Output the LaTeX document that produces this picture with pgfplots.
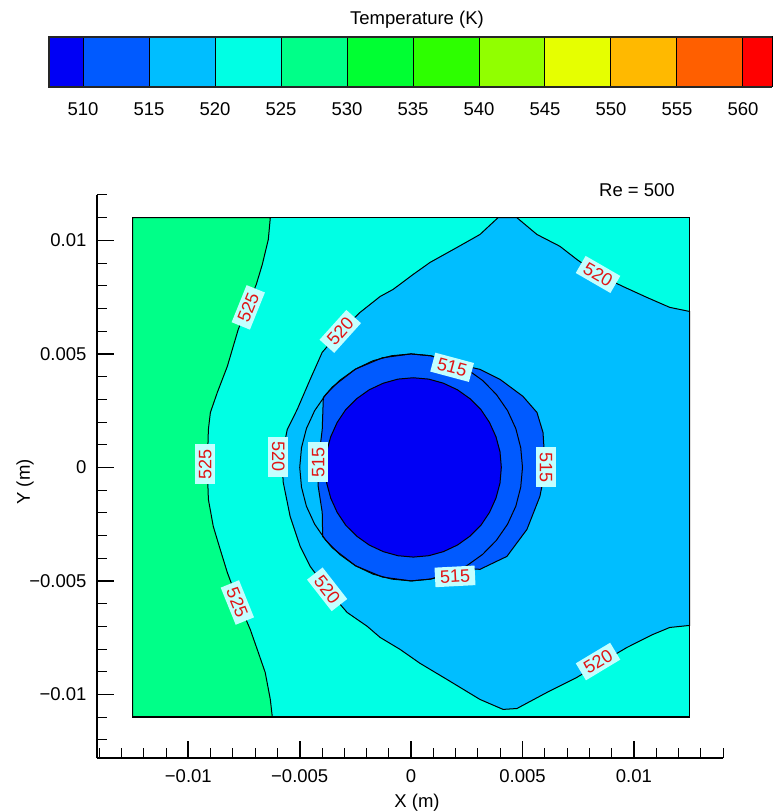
\documentclass[border=0pt]{standalone}
\usepackage{fontspec}
\setmainfont{Liberation Sans}
\usepackage{pgfplots}
\pgfplotsset{compat=1.18}
\definecolor{c1}{RGB}{0,0,245}
\definecolor{c2}{RGB}{0,90,255}
\definecolor{c3}{RGB}{0,190,255}
\definecolor{c4}{RGB}{0,255,228}
\definecolor{c5}{RGB}{0,255,136}
\definecolor{c6}{RGB}{0,255,50}
\definecolor{c7}{RGB}{45,255,0}
\definecolor{c8}{RGB}{145,255,0}
\definecolor{c9}{RGB}{230,255,0}
\definecolor{c10}{RGB}{255,185,0}
\definecolor{c11}{RGB}{255,95,0}
\definecolor{c12}{RGB}{255,0,0}
\definecolor{labbg}{RGB}{196,255,255}
\definecolor{labred}{RGB}{225,20,20}
\tikzset{clab/.style={fill=labbg, text=labred, inner xsep=5pt, inner ysep=3.5pt, font=\fontsize{18}{20}\selectfont}}
\begin{document}
\begin{tikzpicture}[font=\fontsize{18.5}{21}\selectfont]
% ---------- colour legend ----------
\begin{axis}[at={(49pt,725pt)}, anchor=south west, scale only axis,
  width=723pt, height=50pt, xmin=507.42, xmax=562.2, ymin=0, ymax=1,
  axis line style={draw=none}, ytick=\empty,
  xtick={510,515,520,525,530,535,540,545,550,555,560},
  xticklabels={510,515,520,525,530,535,540,545,550,555,560},
  major tick length=0pt, xtick style={draw=none},
  xticklabel style={font=\fontsize{18.5}{21}\selectfont, yshift=-12pt},
  clip=false]
\addplot[fill=c1, draw=black, line width=1pt] coordinates {(507.42,0)(510,0)(510,1)(507.42,1)} --cycle;
\addplot[fill=c2, draw=black, line width=1pt] coordinates {(510,0)(515,0)(515,1)(510,1)} --cycle;
\addplot[fill=c3, draw=black, line width=1pt] coordinates {(515,0)(520,0)(520,1)(515,1)} --cycle;
\addplot[fill=c4, draw=black, line width=1pt] coordinates {(520,0)(525,0)(525,1)(520,1)} --cycle;
\addplot[fill=c5, draw=black, line width=1pt] coordinates {(525,0)(530,0)(530,1)(525,1)} --cycle;
\addplot[fill=c6, draw=black, line width=1pt] coordinates {(530,0)(535,0)(535,1)(530,1)} --cycle;
\addplot[fill=c7, draw=black, line width=1pt] coordinates {(535,0)(540,0)(540,1)(535,1)} --cycle;
\addplot[fill=c8, draw=black, line width=1pt] coordinates {(540,0)(545,0)(545,1)(540,1)} --cycle;
\addplot[fill=c9, draw=black, line width=1pt] coordinates {(545,0)(550,0)(550,1)(545,1)} --cycle;
\addplot[fill=c10, draw=black, line width=1pt] coordinates {(550,0)(555,0)(555,1)(550,1)} --cycle;
\addplot[fill=c11, draw=black, line width=1pt] coordinates {(555,0)(560,0)(560,1)(555,1)} --cycle;
\addplot[fill=c12, draw=black, line width=1pt] coordinates {(560,0)(562.2,0)(562.2,1)(560,1)} --cycle;
\addplot[draw=black!85, line width=2pt] coordinates {(562.2,0)(507.42,0)(507.42,1)(562.2,1)};
\end{axis}
% ---------- contour plot ----------
\begin{axis}[at={(97pt,54pt)}, anchor=south west, scale only axis,
  width=626pt, height=563pt,
  xmin=-0.0141, xmax=0.014, ymin=-0.0128, ymax=0.012,
  axis lines=left, axis line style={-, line width=2pt, black},
  tick align=inside, major tick length=17pt, minor tick length=10pt,
  every major tick/.append style={line width=1.8pt, black},
  every minor tick/.append style={line width=1pt, black},
  scaled ticks=false,
  xtick={-0.01,-0.005,0,0.005,0.01},
  xticklabels={−0.01,−0.005,0,0.005,0.01},
  ytick={-0.01,-0.005,0,0.005,0.01},
  yticklabels={−0.01,−0.005,0,0.005,0.01},
  minor xtick={-0.014,-0.013,-0.012,-0.011,-0.009,-0.008,-0.007,-0.006,-0.004,-0.003,-0.002,-0.001,0.001,0.002,0.003,0.004,0.006,0.007,0.008,0.009,0.011,0.012,0.013,0.014},
  minor ytick={-0.012,-0.011,-0.009,-0.008,-0.007,-0.006,-0.004,-0.003,-0.002,-0.001,0.001,0.002,0.003,0.004,0.006,0.007,0.008,0.009,0.011,0.012},
  xticklabel style={font=\fontsize{18.5}{21}\selectfont, yshift=-8pt},
  yticklabel style={font=\fontsize{18.5}{21}\selectfont, xshift=-7pt},
  clip=false]
% 520-525 band (background)
\addplot[fill=c4, draw=none] coordinates {(-0.0125,-0.011)(0.0125,-0.011)(0.0125,0.011)(-0.0125,0.011)} --cycle;
% 525-530 band
\addplot[fill=c5, draw=black, line width=1pt] coordinates {(-0.0125,0.011) (-0.00632,0.011) (-0.00641,0.01004) (-0.00668,0.00894) (-0.00695,0.00806) (-0.00731,0.00718) (-0.00776,0.00608) (-0.00825,0.00445) (-0.00870,0.00330) (-0.00901,0.00242) (-0.00910,0.00167) (-0.00915,0) (-0.00910,-0.00141) (-0.00888,-0.00260) (-0.00857,-0.00361) (-0.00825,-0.00463) (-0.00780,-0.00581) (-0.00722,-0.00714) (-0.00686,-0.00815) (-0.00655,-0.00903) (-0.00632,-0.01022) (-0.00623,-0.011) (-0.0125,-0.011)} --cycle;
% 515-520 band
\addplot[fill=c3, draw=black, line width=1pt] coordinates {(0.00390,0.011) (0.00309,0.01026) (0.00206,0.00969) (0.00085,0.00903) (0.00009,0.00850) (-0.00081,0.00784) (-0.00139,0.00753) (-0.00229,0.00683) (-0.00318,0.00599) (-0.00399,0.00507) (-0.00453,0.00388) (-0.00511,0.00256) (-0.00556,0.00167) (-0.00574,0.00079) (-0.00578,0) (-0.00574,-0.00066) (-0.00543,-0.00216) (-0.00498,-0.00348) (-0.00453,-0.00436) (-0.00377,-0.00537) (-0.00287,-0.00639) (-0.00197,-0.00700) (-0.00139,-0.00749) (-0.00049,-0.00802) (0.00040,-0.00863) (0.00161,-0.00934) (0.00309,-0.01022) (0.00413,-0.01066) (0.00475,-0.01062) (0.00610,-0.00991) (0.00744,-0.00925) (0.00839,-0.00868) (0.00969,-0.00793) (0.01085,-0.00736) (0.01161,-0.00705) (0.0125,-0.00696) (0.0125,0.00687) (0.01161,0.00705) (0.01058,0.00749) (0.00951,0.00797) (0.00839,0.00850) (0.00744,0.00916) (0.00668,0.00974) (0.00565,0.01026) (0.00475,0.011)} --cycle;
% 510-515 band
\addplot[fill=c2, draw=black, line width=1pt] coordinates {(-0.00394,0.00308) (-0.00354,0.00354) (-0.00250,0.00433) (-0.00129,0.00483) (0,0.005) (0.00087,0.00492) (0.00171,0.00470) (0.00250,0.00445) (0.00309,0.00432) (0.00399,0.00388) (0.00502,0.00313) (0.00565,0.00242) (0.00592,0.00154) (0.00601,0.00020) (0.00592,-0.00060) (0.00578,-0.00128) (0.00520,-0.00273) (0.00430,-0.00392) (0.00309,-0.00449) (0.00250,-0.00445) (0.00171,-0.00470) (0.00087,-0.00492) (0,-0.005) (-0.00129,-0.00483) (-0.00250,-0.00433) (-0.00354,-0.00354) (-0.00397,-0.00304) (-0.00399,-0.00198) (-0.00417,-0.00084) (-0.00417,0.00022) (-0.00399,0.00167)} --cycle;
% r = 0.005 circle line
\addplot[draw=black, line width=1pt] coordinates {(0.005,0) (0.00492,0.00087) (0.00470,0.00171) (0.00433,0.0025) (0.00383,0.00321) (0.00321,0.00383) (0.0025,0.00433) (0.00171,0.00470) (0.00087,0.00492) (0,0.005) (-0.00087,0.00492) (-0.00171,0.00470) (-0.0025,0.00433) (-0.00321,0.00383) (-0.00383,0.00321) (-0.00433,0.0025) (-0.00470,0.00171) (-0.00492,0.00087) (-0.005,0) (-0.00492,-0.00087) (-0.00470,-0.00171) (-0.00433,-0.0025) (-0.00383,-0.00321) (-0.00321,-0.00383) (-0.0025,-0.00433) (-0.00171,-0.00470) (-0.00087,-0.00492) (0,-0.005) (0.00087,-0.00492) (0.00171,-0.00470) (0.0025,-0.00433) (0.00321,-0.00383) (0.00383,-0.00321) (0.00433,-0.0025) (0.00470,-0.00171) (0.00492,-0.00087)} --cycle;
% below 510
\addplot[fill=c1, draw=black, line width=1pt] coordinates {(0.00405,0) (0.00399,0.00069) (0.00381,0.00135) (0.00352,0.00198) (0.00314,0.00254) (0.00264,0.00303) (0.00208,0.00342) (0.00145,0.00371) (0.00079,0.00389) (0.00010,0.00395) (-0.00059,0.00389) (-0.00125,0.00371) (-0.00188,0.00342) (-0.00244,0.00303) (-0.00294,0.00254) (-0.00332,0.00198) (-0.00361,0.00135) (-0.00379,0.00069) (-0.00385,0) (-0.00379,-0.00069) (-0.00361,-0.00135) (-0.00332,-0.00198) (-0.00294,-0.00254) (-0.00244,-0.00303) (-0.00188,-0.00342) (-0.00125,-0.00371) (-0.00059,-0.00389) (0.00010,-0.00395) (0.00079,-0.00389) (0.00145,-0.00371) (0.00208,-0.00342) (0.00264,-0.00303) (0.00314,-0.00254) (0.00352,-0.00198) (0.00381,-0.00135) (0.00399,-0.00069)} --cycle;
% frame
\addplot[draw=black, line width=1.5pt] coordinates {(-0.0125,-0.011)(0.0125,-0.011)(0.0125,0.011)(-0.0125,0.011)} --cycle;
% contour labels
\node[clab, rotate=68] at (axis cs:-0.00731,0.00705) {525};
\node[clab, rotate=90] at (axis cs:-0.00924,0.00013) {525};
\node[clab, rotate=-68] at (axis cs:-0.00780,-0.00595) {525};
\node[clab, rotate=-90] at (axis cs:-0.00596,0.00048) {520};
\node[clab, rotate=48] at (axis cs:-0.00318,0.00599) {520};
\node[clab, rotate=-52] at (axis cs:-0.00377,-0.00537) {520};
\node[clab, rotate=-30] at (axis cs:0.00839,0.00850) {520};
\node[clab, rotate=31] at (axis cs:0.00839,-0.00855) {520};
\node[clab, rotate=-15] at (axis cs:0.00184,0.00441) {515};
\node[clab, rotate=-90] at (axis cs:0.00605,0) {515};
\node[clab, rotate=3] at (axis cs:0.00197,-0.00480) {515};
\node[clab, rotate=90] at (axis cs:-0.00417,0.00022) {515};
\end{axis}
% texts
\node at (417pt,792pt) {Temperature (K)};
\node at (637pt,622pt) {Re = 500};
\node at (417pt,9pt) {X (m)};
\node[rotate=90] at (25pt,330pt) {Y (m)};
\pgfresetboundingbox
\path[use as bounding box] (0pt,0pt) rectangle (772pt,812pt);
\end{tikzpicture}
\end{document}
